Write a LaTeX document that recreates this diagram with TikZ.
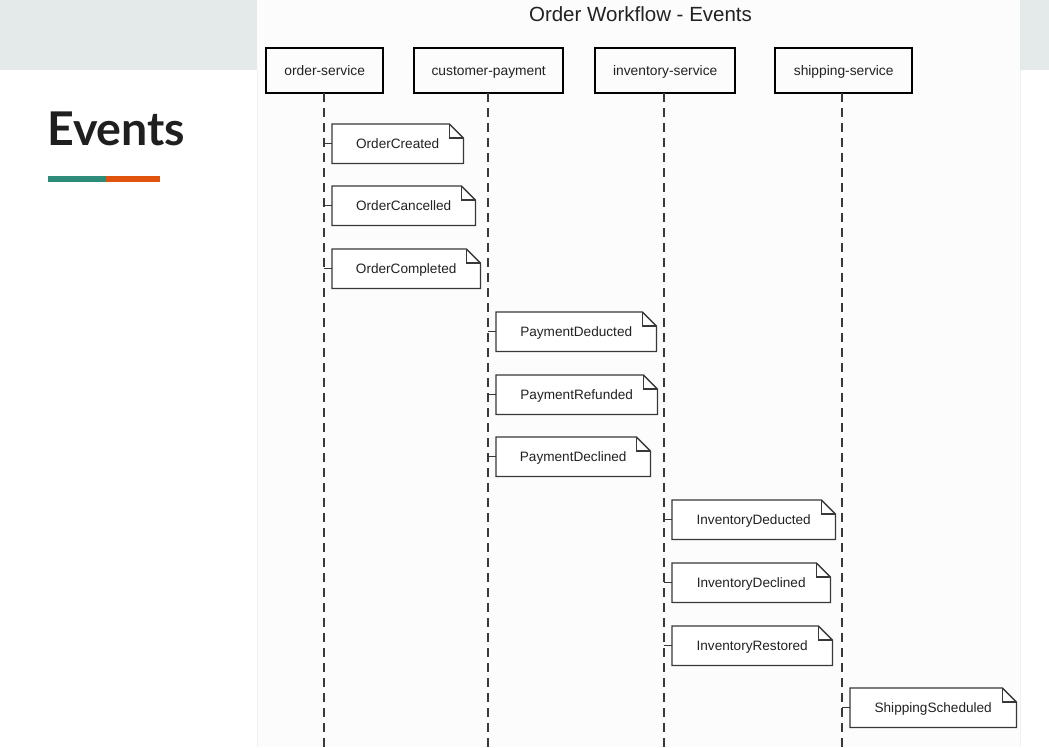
\documentclass[tikz,border=0pt]{standalone}
\usepackage{fontspec}
\setmainfont{Liberation Sans}
\newfontfamily\headfont{Lato}
\definecolor{bandgray}{HTML}{E4E9E9}
\definecolor{accentteal}{HTML}{2E8B7A}
\definecolor{accentorange}{HTML}{E0530F}
\definecolor{inkgray}{HTML}{222222}
\begin{document}
\begin{tikzpicture}[x=1pt,y=-1pt,
  participant/.style={draw=black, line width=2.4pt, minimum height=45pt,
    inner sep=0pt, text height=11.5pt, text depth=1.5pt,
    font=\fontsize{13.8}{16}\selectfont, text=inkgray, anchor=north west},
  lifeline/.style={draw=inkgray!90, line width=1.3pt, dash pattern=on 9pt off 6pt},
  notebox/.style={inner sep=0pt, minimum height=39pt, anchor=north west,
    text height=11.5pt, text depth=1.5pt,
    font=\fontsize{13.6}{16}\selectfont, text=inkgray},
  noteline/.style={draw=inkgray!90, line width=1.3pt, line join=miter},
  tick/.style={draw=inkgray!90, line width=1.3pt}]
% page and backgrounds
\useasboundingbox (0,0) rectangle (1049,747);
\fill[white] (0,0) rectangle (1049,747);
\fill[bandgray] (0,0) rectangle (257,70);
\fill[bandgray] (1020,0) rectangle (1049,70);
\fill[white!99!black] (257,0) rectangle (1020,747);
\draw[black!6, line width=0.8pt] (257,70) -- (257,747);
\draw[black!6, line width=0.8pt] (1020,70) -- (1020,747);

% slide heading
\node[anchor=base west, inner sep=0pt, font=\headfont\bfseries\fontsize{46.5}{52}\selectfont, text=black!88] (heading) at (47,145) {Events};
\fill[accentteal] (48,176) rectangle (106,182);
\fill[accentorange] (106,176) rectangle (160,182);

% diagram title
\node[font=\fontsize{20.5}{24}\selectfont, text=inkgray] (title) at (640.5,14) {Order Workflow - Events};

% participants
\node[participant, minimum width=117pt] (os) at (265,47) {order-service};
\node[participant, minimum width=149pt] (cp) at (413,47) {customer-payment};
\node[participant, minimum width=140pt] (is) at (594,47) {inventory-service};
\node[participant, minimum width=137pt] (ss) at (774,47) {shipping-service};

% lifelines
\coordinate (bottom) at (0,749);
\foreach \p/\x in {os/324,cp/488,is/664,ss/842}{
  \coordinate (\p top) at (\x,93);
  \draw[lifeline] (\p top) -- (\p top |- bottom);
}

% event notes: name / left / top / width / text / participant
\foreach \n/\x/\y/\w/\t/\p in {
  n1/332/124/131/OrderCreated/os,
  n2/332/186/143/OrderCancelled/os,
  n3/332/249/148/OrderCompleted/os,
  n4/496/312/160/PaymentDeducted/cp,
  n5/496/375/161/PaymentRefunded/cp,
  n6/496/437/154/PaymentDeclined/cp,
  n7/672/500/163/InventoryDeducted/is,
  n8/672/563/158/InventoryDeclined/is,
  n9/672/626/160/InventoryRestored/is,
  n10/850/688/166/ShippingScheduled/ss}{
  \node[notebox, minimum width=\w pt] (\n) at (\x,\y) {};
  \draw[noteline, fill=white]
    (\n.south west) -- (\n.north west) -- ([xshift=-14pt]\n.north east)
    -- ([yshift=-14pt]\n.north east) -- (\n.south east) -- cycle;
  \draw[noteline] ([xshift=-14pt]\n.north east) -- ([xshift=-14pt,yshift=-14pt]\n.north east)
    -- ([yshift=-14pt]\n.north east);
  \node[notebox, minimum width=\w pt] at (\x,\y) {\t};
  \draw[tick] (\n.west) -- (\n.west -| \p top);
}
\end{tikzpicture}
\end{document}
